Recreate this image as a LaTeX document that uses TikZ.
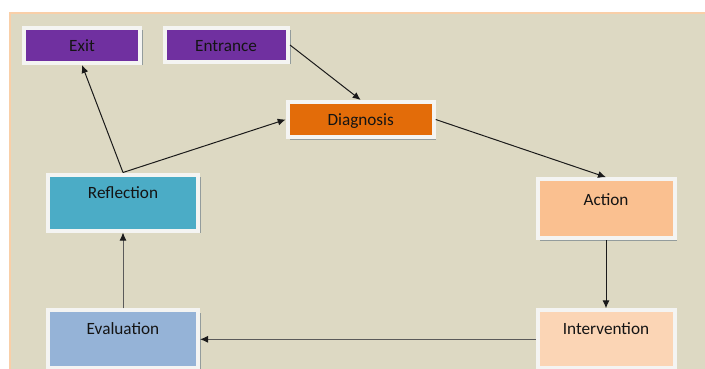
\documentclass[tikz,border=0pt]{standalone}
\usepackage{fontspec}
\setmainfont{Carlito}
\usetikzlibrary{arrows.meta,shadows}
\definecolor{bgc}{HTML}{DDD9C3}
\definecolor{panelline}{HTML}{F9CFA8}
\definecolor{cpurple}{HTML}{7030A0}
\definecolor{corange}{HTML}{E36C09}
\definecolor{cteal}{HTML}{4BACC6}
\definecolor{caction}{HTML}{FAC090}
\definecolor{cinterv}{HTML}{FBD5B5}
\definecolor{ceval}{HTML}{95B3D7}
\definecolor{cframe}{HTML}{F4F4F2}
\definecolor{cshadow}{HTML}{939C9C}
\definecolor{carrow}{HTML}{1A1A1A}
\definecolor{carrowg}{HTML}{5A5A5A}
\tikzset{
  box/.style={draw=cframe, line width=4pt, rectangle,
    drop shadow={shadow xshift=2.5pt, shadow yshift=-2.5pt, fill=cshadow, opacity=1}},
  txt/.style={font=\fontsize{17.2}{19}\selectfont, text=black!92, inner sep=0pt},
  arr/.style={draw=carrow, line width=1pt, -{Latex[length=8pt,width=7pt]}},
  arrg/.style={arr, draw=carrowg, -{Latex[length=8pt,width=7pt,color=carrow]}},
}
\begin{document}
\begin{tikzpicture}[x=1pt,y=-1pt]
\useasboundingbox (0,0) rectangle (705,369);
\clip (0,0) rectangle (705,369);
\fill[white] (0,0) rectangle (705,369);
\fill[bgc] (10,13) rectangle (706,370);
\draw[panelline, line width=1.5pt] (10,372) -- (10,13) -- (706,13);

% boxes (outer extents include the 4pt frame)
\node[box, fill=cpurple, minimum width=116pt, minimum height=35pt] (exit) at (82,45.5) {};
\node[txt] (exitt) at (82,46) {Exit};
\node[box, fill=cpurple, minimum width=123pt, minimum height=34pt] (entr) at (226.5,45) {};
\node[txt] (entrt) at (226,46) {Entrance};
\node[box, fill=corange, minimum width=146pt, minimum height=35pt] (diag) at (360.7,119.5) {};
\node[txt] (diagt) at (360.7,121) {Diagnosis};
\node[box, fill=cteal, minimum width=150pt, minimum height=56pt] (refl) at (123,202.5) {};
\node[txt] (reflt) at (123,192.3) {Reflection};
\node[box, fill=caction, minimum width=137pt, minimum height=59pt] (act) at (606,208.7) {};
\node[txt] (actt) at (606,199.3) {Action};
\node[box, fill=ceval, minimum width=150pt, minimum height=58pt] (eval) at (123,339.3) {};
\node[txt] (evalt) at (123,329) {Evaluation};
\node[box, fill=cinterv, minimum width=137pt, minimum height=58pt] (int) at (606,339.3) {};
\node[txt] (intt) at (606,328.5) {Intervention};

% connectors
\draw[arr] (entr.east) -- (diag.north);
\draw[arr] (diag.east) -- (act.north);
\draw[arr] (act.south) -- (int.north);
\draw[arrg] (int.west) -- (eval.east);
\draw[arrg] (eval.north) -- (refl.south);
\draw[arr] (refl.north) -- (exit.south);
\draw[arr] (refl.north) -- (diag.west);
\end{tikzpicture}
\end{document}
